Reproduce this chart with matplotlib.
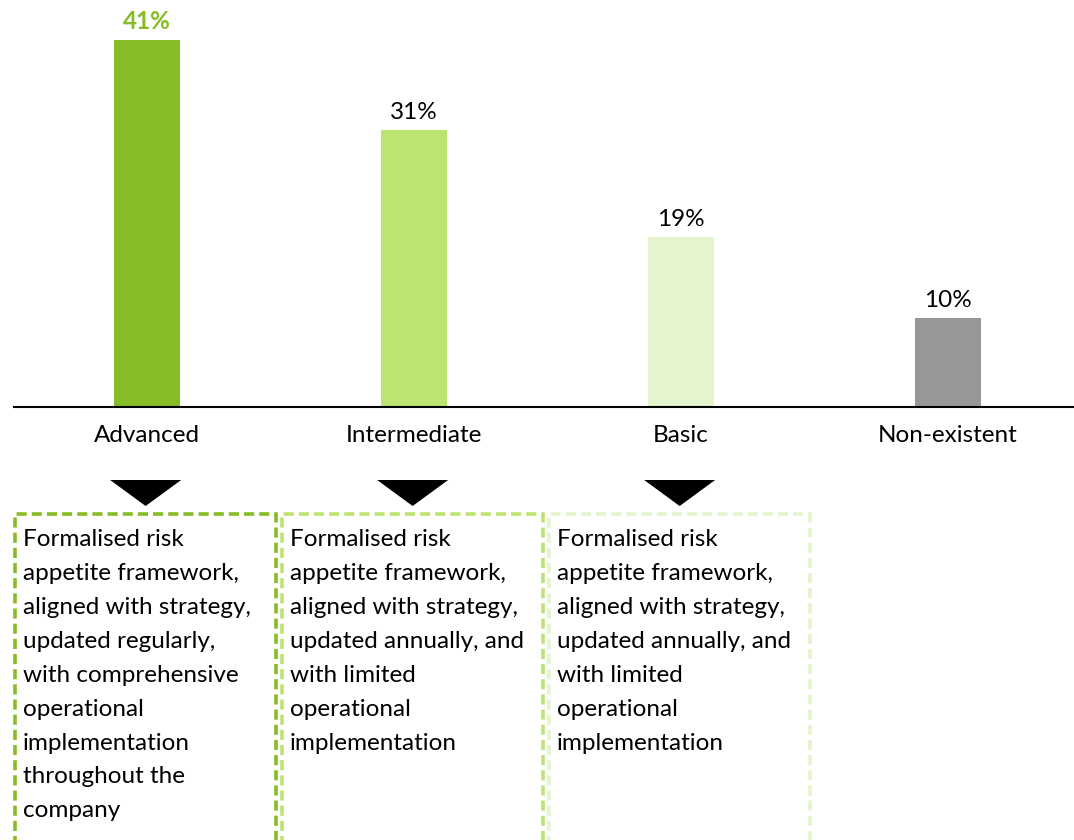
import matplotlib.pyplot as plt
from matplotlib.patches import Rectangle, Polygon
from matplotlib.transforms import blended_transform_factory

# maturity levels and share of companies
levels = ['Advanced', 'Intermediate', 'Basic', 'Non-existent']
shares = [41, 31, 19, 10]
colors = ['#86BC25', '#BDE472', '#E4F4CC', '#979797']

# description for each maturity level (no box for Non-existent)
descriptions = [
    'Formalised risk\nappetite framework,\naligned with strategy,\nupdated regularly,\nwith comprehensive\noperational\nimplementation\nthroughout the\ncompany',
    'Formalised risk\nappetite framework,\naligned with strategy,\nupdated annually, and\nwith limited\noperational\nimplementation',
    'Formalised risk\nappetite framework,\naligned with strategy,\nupdated annually, and\nwith limited\noperational\nimplementation',
]

plt.rcParams['font.family'] = ['Lato', 'DejaVu Sans']
FS = 17.5

W, H = 1074, 840
fig = plt.figure(figsize=(W / 100, H / 100), dpi=100)
ax = fig.add_axes([14 / W, (H - 407) / H, (W - 14) / W, 407 / H])

x = list(range(len(levels)))
ax.bar(x, shares, width=0.25, color=colors)
ax.set_xlim(-0.498, 3.472)
ax.set_ylim(0, 45.5)

# value labels above bars, the first one highlighted
for i, v in enumerate(shares):
    if i == 0:
        ax.annotate(f'{v}%', (i, v), xytext=(0, 5), textcoords='offset points',
                    ha='center', va='bottom', fontsize=FS, fontweight='bold', color=colors[0])
    else:
        ax.annotate(f'{v}%', (i, v), xytext=(0, 5), textcoords='offset points',
                    ha='center', va='bottom', fontsize=FS, color='black')

ax.set_xticks(x)
ax.set_xticklabels(levels, fontsize=FS)
ax.tick_params(axis='x', length=0, pad=13)
ax.set_yticks([])
for s in ['top', 'right', 'left']:
    ax.spines[s].set_visible(False)
ax.spines['bottom'].set_linewidth(1.5)

# triangles and dashed description boxes below the axis
tr = blended_transform_factory(ax.transData, fig.transFigure)
for i, desc in enumerate(descriptions):
    tri = Polygon([(i - 0.138, (H - 480) / H), (i + 0.128, (H - 480) / H), (i - 0.005, (H - 506) / H)],
                  closed=True, facecolor='black', edgecolor='none', transform=tr, clip_on=False)
    fig.add_artist(tri)
    box = Rectangle((i - 0.495, -0.05), 0.98, (H - 514) / H + 0.05, transform=tr,
                    fill=False, edgecolor=colors[i], linewidth=2.6,
                    linestyle=(0, (2.8, 1.4)), clip_on=False)
    fig.add_artist(box)
    fig.text(i - 0.465, (H - 529) / H, desc, transform=tr, ha='left', va='top',
             fontsize=FS, linespacing=1.76, color='black')

fig.savefig('out.png', dpi=100)
